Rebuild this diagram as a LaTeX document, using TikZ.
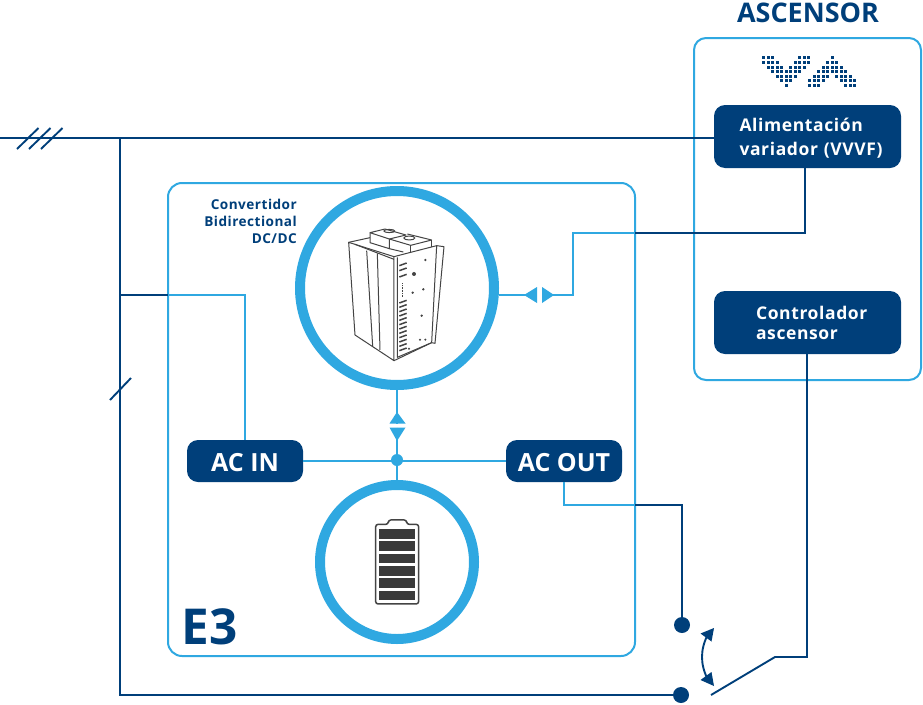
\documentclass[tikz,border=0pt]{standalone}
\usepackage{fontspec}
\setmainfont{Open Sans}
\newfontfamily\spaced[LetterSpace=3.5]{Open Sans}
\definecolor{navy}{HTML}{003F7A}
\definecolor{sky}{HTML}{2FA8E1}
\definecolor{cell}{HTML}{3A3A3A}
\definecolor{devline}{HTML}{444444}
\newcommand\lowered[2]{\raisebox{-#1pt}[\height][\depth]{#2}}
\newcommand\boxline[2]{\hspace*{#1pt}\lowered{2}{#2}}
\tikzset{
  navyline/.style={draw=navy,line width=1.9pt},
  skyline/.style={draw=sky,line width=1.9pt},
  skyframe/.style={draw=sky,line width=2pt,rounded corners=12pt,fill=white},
  navybox/.style={fill=navy,rounded corners=11pt,inner sep=0pt,text=white,font=\bfseries\spaced\fontsize{17.5}{24}\selectfont,text width=187pt,minimum height=63pt,align=left},
  acbox/.style={fill=navy,rounded corners=11pt,inner sep=0pt,text=white,font=\bfseries\fontsize{25}{28}\selectfont,minimum width=116pt,minimum height=42pt},
  ring/.style={circle,draw=sky,line width=10pt,inner sep=0pt,fill=white},
  joint/.style={circle,fill=navy,inner sep=0pt,minimum size=16pt},
  dev/.style={draw=devline,line width=1pt,line join=round},
  logodot/.style={fill=navy}
}
\begin{document}
\begin{tikzpicture}[x=1pt,y=-1pt]
\useasboundingbox (0,0) rectangle (923,704);
% frames
\node[skyframe,minimum width=227pt,minimum height=342pt,inner sep=0pt] (lift) at (807.5,209) {};
\node[skyframe,rounded corners=14pt,minimum width=467pt,minimum height=473pt,inner sep=0pt] (eth) at (401.5,419.5) {};
% junction coordinates
\coordinate (lineL) at (0,138);
\coordinate (busT) at (120,138);
\coordinate (busB) at (120,695);
\coordinate (tapA) at (120,295);
\coordinate (tapB) at (168,295);
\coordinate (tapC) at (245,295);
\coordinate (upA) at (573,295);
\coordinate (upB) at (573,233);
\coordinate (upC) at (635,233);
\coordinate (upD) at (805,233);
\coordinate (outA) at (564,505);
\coordinate (outB) at (635,505);
\coordinate (outC) at (682,505);
\coordinate (swA) at (807,657);
\coordinate (swB) at (775,657);
\coordinate (swC) at (711,695);
% boxes
\node[navybox] (alim) at (807.5,136.5) {\boxline{25.5}{Alimentación}\\\boxline{25.5}{variador (VVVF)}};
\node[navybox] (ctrl) at (807.5,322.5) {\hspace*{42pt}Controlador\\[-4pt]\hspace*{42pt}ascensor};
\node[acbox] (acin) at (245,461) {\lowered{2}{AC IN}};
\node[acbox] (acout) at (564,461) {\lowered{2}{AC OUT}};
% rings
\node[ring,minimum size=194pt] (conv) at (397,288) {};
\node[ring,minimum size=154pt] (batt) at (397,562) {};
\node[circle,fill=sky,inner sep=0pt,minimum size=12pt] (hub) at (397,460) {};
\node[joint] (jA) at (682,625) {};
\node[joint] (jB) at (681,695) {};
% navy lines
\draw[navyline] (lineL) -- (lineL -| alim.west);
\draw[navyline] (busT) -- (busB) -- (jB);
\draw[navyline] (tapA) -- (tapB);
\draw[navyline] (upC) -- (upD) -- (upD |- alim.south);
\draw[navyline] (outB) -- (outC) -- (jA);
\draw[navyline] (ctrl.south -| swA) -- (swA) -- (swB) -- (swC);
% sky lines
\draw[skyline] (tapB) -- (tapC) -- (tapC |- acin.north);
\draw[skyline] (acin.east) -- (acout.west);
\draw[skyline] (conv.south) -- (397,423.5);
\draw[skyline] (397,427.5) -- (hub) -- (batt.north);
\draw[skyline] (conv.east |- upA) -- (537,295);
\draw[skyline] (542,295) -- (upA) -- (upB) -- (upC);
\draw[skyline] (acout.south) -- (outA) -- (outB);
% slashes
\foreach \dx in {0,12,24}
  \draw[navy,line width=1.9pt] (17+\dx,149) -- (38.5+\dx,128);
\draw[navy,line width=1.9pt] (110,400) -- (131,378);
% bidirectional arrows
\fill[sky] (397,412) -- (405.5,423.5) -- (389.5,423.5) -- cycle;
\fill[sky] (397,441) -- (405.5,427.5) -- (389.5,427.5) -- cycle;
\fill[sky] (524,295) -- (537,287) -- (537,303) -- cycle;
\fill[sky] (554,295) -- (542,287) -- (542,303) -- cycle;
% switch arc
\draw[navy,line width=1.9pt] (708,634) .. controls (700,650) and (700,664) .. (708,680);
\fill[navy] (714,628) -- (700.5,633.5) -- (711.5,641.5) -- cycle;
\fill[navy] (714,686) -- (700.5,680) -- (711.5,672) -- cycle;
% logo
\begin{scope}[shift={(740,40)},x=0.3333pt,y=-0.3333pt]
\foreach \y/\xs in {54/{70,84,98,178,192,205,277},
 68/{70,84,98,111,165,178,192,205,263,277,290},
 83/{84,98,111,125,152,165,178,192,250,263,277,290,303},
 96/{98,111,125,138,152,165,178,236,250,263,277,290,303,317},
 110/{111,125,138,152,165,223,236,250,263,290,303,317,330},
 123/{125,138,152,209,223,236,250,303,317,330,343},
 136/{138,209,223,236,317,330,343}}
  \foreach \x in \xs
    \fill[logodot] (\x-4.5,\y-4.5) rectangle (\x+4.5,\y+4.5);
\end{scope}
% converter drawing
\begin{scope}[shift={(320,210)},x=0.3333pt,y=-0.3333pt]
\draw[dev] (86,97) -- (105,375) -- (222,452) -- (222,140) -- cycle;
\draw[dev] (86,97) -- (150,83);
\draw[dev] (105,103) -- (222,148);
\draw[dev] (140,122) -- (158,408);
\draw[dev] (172,130) -- (180,420);
\draw[dev] (222,140) -- (272,127) -- (350,107) -- (372,110) -- (345,400) -- (335,398) -- (222,452);
\draw[dev] (232,142) -- (232,442) -- (335,398);
\draw[dev] (350,107) -- (335,398);
\draw[dev] (150,68) -- (195,57) -- (258,75) -- (208,87) -- cycle;
\draw[dev] (150,68) -- (150,98) -- (208,116) -- (208,87);
\draw[dev] (208,87) -- (272,106) -- (335,90) -- (262,72);
\draw[dev] (272,106) -- (272,127);
\draw[dev] (335,90) -- (335,112);
\draw[dev] (208,116) -- (250,126);
\draw[dev] (208,63) ellipse (5.5pt and 1.6pt);
\draw[dev] (268,84) ellipse (5.5pt and 2pt);
\foreach \y in {163,178,197,275,288,301,314,327,340,353,366,379,392,405,418}
  \draw[devline,line width=1.5pt] (238,\y+4) -- (260,\y-4);
\draw[devline,line width=0.6pt,densely dotted] (248,220) -- (248,262);
\foreach \x/\y/\r in {316/150/1.3,282/192/2,278/248/1.3,310/238/1.3,305/317/1.3,300/389/1.1,316/389/1.1,267/416/1.1}
  \fill[devline] (\x,\y) circle (\r pt);
\end{scope}
% battery
\begin{scope}[shift={(350,380)},x=0.3333pt,y=-0.3333pt]
\draw[draw=devline,line width=1.5pt,rounded corners=2.5pt,line join=round] (115,433) -- (115,420) -- (170,420) -- (170,433) -- (206,433) -- (206,672) -- (77,672) -- (77,433) -- cycle;
\foreach \y in {447,484,521,558,595,632}
  \fill[cell] (88,\y) rectangle (196,\y+29);
\end{scope}
% labels
\node[text=navy,font=\bfseries\fontsize{27}{30}\selectfont,inner sep=0pt] (titleL) at (808,13) {ASCENSOR};
\node[text=navy,font=\bfseries\fontsize{49.5}{54}\selectfont,inner sep=0pt] (e3L) at (209.5,627) {E3};
\node[text=navy,font=\bfseries\spaced\fontsize{13.6}{17}\selectfont,align=right,inner sep=0pt,anchor=north east] (convL) at (297,199) {Convertidor\\Bidirectional\\DC/DC};
\end{tikzpicture}
\end{document}
